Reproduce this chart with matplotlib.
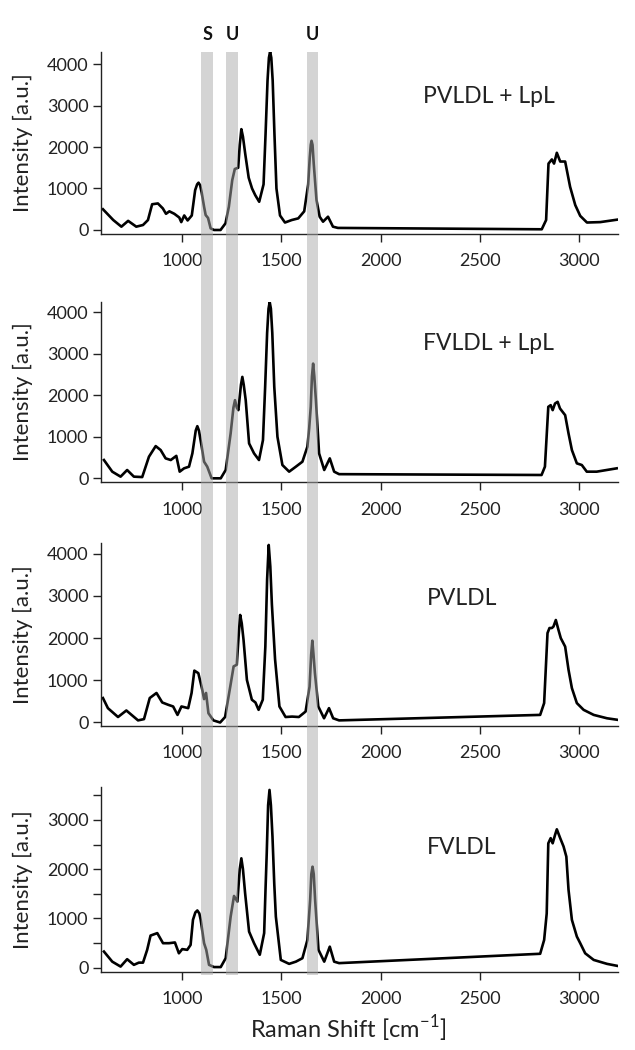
import matplotlib
matplotlib.use("Agg")
import matplotlib.pyplot as plt
from matplotlib.ticker import MultipleLocator

plt.rcParams['font.family'] = ['Lato', 'DejaVu Sans']

# spectra (wavenumber cm-1, intensity a.u.)
pvldl_lpl_x = [600, 652, 693, 727, 768, 802, 827, 848, 877, 902, 918, 935, 960, 985, 995, 1010, 1027, 1048,
               1065, 1075, 1082, 1090, 1098, 1110, 1118, 1130, 1143, 1160, 1193, 1218, 1235, 1252, 1265, 1282,
               1290, 1298, 1306, 1318, 1335, 1352, 1368, 1388, 1410, 1420, 1430, 1437, 1443, 1449, 1456, 1465,
               1475, 1493, 1518, 1552, 1585, 1615, 1635, 1643, 1648, 1652, 1657, 1663, 1677, 1693, 1710, 1735,
               1760, 1785, 2813, 2835, 2847, 2864, 2875, 2889, 2906, 2931, 2956, 2982, 3007, 3041, 3108, 3195]
pvldl_lpl_y = [500, 240, 80, 220, 80, 120, 240, 620, 640, 520, 390, 450, 390, 300, 190, 350, 230, 350,
               960, 1100, 1140, 1080, 900, 560, 360, 290, 40, 0, 0, 160, 560, 1200, 1470, 1500,
               2050, 2430, 2250, 1820, 1260, 1000, 840, 680, 1100, 2300, 3600, 4150, 4300, 4150, 3600, 2300,
               1000, 350, 180, 240, 280, 450, 1100, 1750, 2050, 2150, 2050, 1600, 720, 320, 200, 320,
               80, 50, 17, 240, 1600, 1700, 1600, 1860, 1650, 1650, 1040, 600, 340, 180, 190, 250]

fvldl_lpl_x = [605, 647, 689, 722, 756, 798, 832, 866, 891, 916, 942, 970, 987, 1009, 1034, 1051, 1068, 1076,
               1084, 1098, 1110, 1126, 1148, 1194, 1219, 1244, 1258, 1266, 1275, 1283, 1296, 1303, 1310, 1320,
               1337, 1362, 1387, 1407, 1418, 1428, 1435, 1441, 1447, 1454, 1464, 1480, 1505, 1539, 1573, 1606,
               1631, 1640, 1648, 1654, 1660, 1666, 1674, 1690, 1716, 1744, 1766, 1791, 2812, 2829, 2846, 2858,
               2868, 2880, 2893, 2905, 2931, 2948, 2965, 2990, 3015, 3040, 3090, 3191]
fvldl_lpl_y = [440, 160, 40, 200, 40, 30, 520, 775, 680, 480, 440, 540, 160, 240, 280, 600, 1150, 1255,
               1150, 760, 400, 280, 0, 0, 200, 1080, 1700, 1880, 1700, 1640, 2250, 2440, 2250, 1880,
               840, 600, 440, 920, 2200, 3500, 4080, 4240, 4080, 3500, 2200, 1000, 320, 160, 280, 400,
               760, 1200, 1720, 2450, 2760, 2450, 1880, 600, 200, 480, 160, 100, 80, 280, 1720, 1760,
               1640, 1800, 1840, 1680, 1520, 1080, 680, 360, 320, 160, 160, 240]

pvldl_x = [600, 625, 676, 718, 777, 807, 836, 870, 899, 929, 954, 976, 996, 1030, 1047, 1061, 1081, 1101,
           1110, 1120, 1132, 1157, 1191, 1216, 1242, 1259, 1275, 1285, 1292, 1300, 1309, 1326, 1351, 1369,
           1385, 1406, 1419, 1428, 1436, 1444, 1452, 1468, 1490, 1521, 1554, 1588, 1622, 1642, 1650, 1656,
           1662, 1669, 1686, 1715, 1740, 1761, 1791, 2805, 2825, 2842, 2852, 2864, 2872, 2884, 2897, 2909,
           2931, 2948, 2965, 2990, 3024, 3075, 3142, 3193]
pvldl_y = [580, 340, 130, 285, 50, 80, 580, 700, 475, 420, 380, 180, 380, 340, 700, 1230, 1170, 775,
           555, 700, 220, 50, 0, 130, 850, 1330, 1370, 2100, 2550, 2350, 1960, 1010, 540, 475,
           300, 540, 1800, 3400, 4210, 3700, 2800, 1500, 380, 130, 140, 130, 260, 850, 1600, 1940,
           1600, 1170, 380, 100, 340, 100, 50, 180, 460, 2120, 2240, 2240, 2275, 2430, 2200, 2000,
           1800, 1250, 815, 460, 300, 180, 100, 65]

fvldl_x = [605, 647, 689, 722, 756, 781, 802, 823, 840, 874, 903, 933, 963, 983, 1000, 1025, 1042, 1054,
           1066, 1076, 1086, 1093, 1110, 1121, 1135, 1160, 1194, 1219, 1244, 1261, 1278, 1290, 1298, 1306,
           1317, 1337, 1362, 1391, 1413, 1420, 1426, 1433, 1440, 1447, 1455, 1464, 1472, 1497, 1539, 1573,
           1606, 1631, 1645, 1651, 1657, 1663, 1670, 1687, 1716, 1744, 1766, 1791, 2805, 2825, 2838, 2846,
           2858, 2868, 2880, 2889, 2906, 2923, 2937, 2948, 2965, 2990, 3007, 3032, 3075, 3142, 3193]
fvldl_y = [325, 120, 20, 170, 55, 100, 100, 360, 650, 700, 495, 495, 510, 290, 375, 360, 460, 970,
           1120, 1160, 1100, 970, 495, 360, 55, 10, 10, 190, 1035, 1455, 1340, 2000, 2220, 2000,
           1510, 730, 495, 260, 700, 1600, 2320, 3300, 3610, 3300, 2660, 1700, 1035, 155, 75, 120,
           190, 560, 1375, 1900, 2050, 1900, 1375, 360, 120, 425, 120, 90, 280, 560, 1100, 2525,
           2630, 2525, 2695, 2810, 2630, 2460, 2255, 1580, 970, 630, 495, 290, 155, 75, 35]

names = ["PVLDL + LpL", "FVLDL + LpL", "PVLDL", "FVLDL"]
spectra = [(pvldl_lpl_x, pvldl_lpl_y), (fvldl_lpl_x, fvldl_lpl_y), (pvldl_x, pvldl_y), (fvldl_x, fvldl_y)]
yticks_max = [4000, 4000, 4000, 3000]
ylims = [(-85, 4290), (-95, 4250), (-75, 4250), (-90, 3670)]

band_labels = ["S", "U", "U"]
bands = [(1097, 1153), (1222, 1282), (1627, 1684)]

# panel layout in figure fractions [left, bottom, width, height]
left, width = 0.159, 0.815
boxes = [(0.7776, 0.1729), (0.5407, 0.1720), (0.3089, 0.1737), (0.0743, 0.1762)]
label_pos = [(2545, 0.719), (2545, 0.733), (2410, 0.662), (2410, 0.638)]

fig = plt.figure(figsize=(6.35, 10.5), dpi=100)

for i in range(4):
    bottom, height = boxes[i]
    ax = fig.add_axes([left, bottom, width, height])
    x, y = spectra[i]
    ax.plot(x, y, color='black', lw=1.9, solid_joinstyle='round')
    ax.set_xlim(590, 3200)
    ax.set_ylim(*ylims[i])
    ax.set_xticks([1000, 1500, 2000, 2500, 3000])
    ax.set_yticks(list(range(0, yticks_max[i] + 1, 1000)))
    if i == 3:
        ax.yaxis.set_minor_locator(MultipleLocator(500))
    for s in ['top', 'right']:
        ax.spines[s].set_visible(False)
    for s in ['left', 'bottom']:
        ax.spines[s].set_linewidth(1.0)
        ax.spines[s].set_color('#222222')
    ax.tick_params(axis='both', which='both', length=6, width=1.0, color='#222222',
                   labelsize=13, labelcolor='#222222')
    ax.tick_params(axis='x', pad=8)
    ax.tick_params(axis='y', pad=3)
    ax.set_ylabel("Intensity [a.u.]", fontsize=16, color='#222222')
    ax.yaxis.set_label_coords(-0.131, 0.5)
    lx, ly = label_pos[i]
    ax.text(lx, ly, names[i], transform=ax.get_xaxis_transform(),
            ha='center', va='baseline', fontsize=16.5, color='#222222')

fig.text(0.548, 0.012, r"Raman Shift [cm$^{\mathregular{-1}}$]", ha='center', fontsize=17, color='#222222')

# gray bands running through all panels, drawn on top
over = fig.add_axes([left, 0.0714, width, 0.879])
over.set_xlim(590, 3200)
over.set_ylim(0, 1)
over.axis('off')
for (a, b), lab in zip(bands, band_labels):
    over.axvspan(a, b, color='#aaaaaa', alpha=0.5, lw=0)
    over.text((a + b) / 2, 1.013, lab, ha='center', va='baseline', fontsize=13,
              fontweight='bold', color='#111111')

fig.savefig("out.png", dpi=100)
